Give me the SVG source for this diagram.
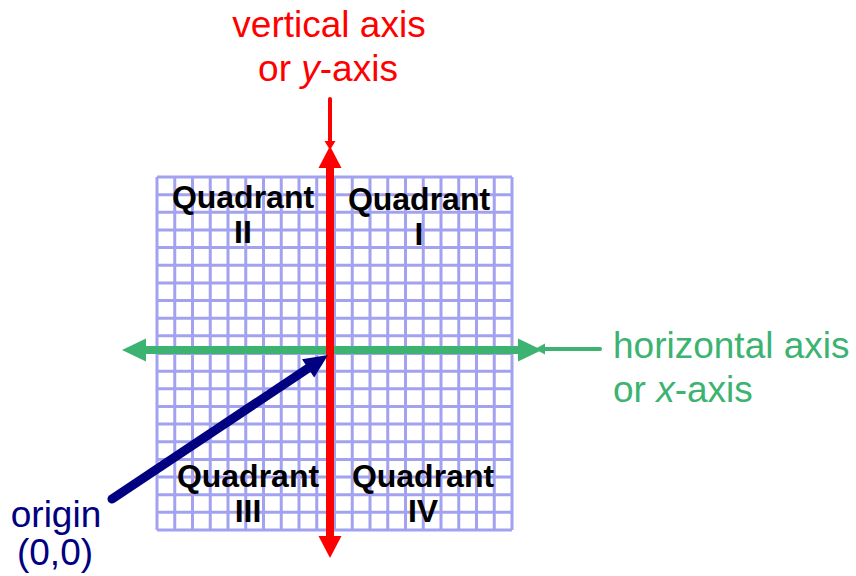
<svg xmlns="http://www.w3.org/2000/svg" width="856" height="576" viewBox="0 0 856 576">
<style>
.lbl{font-family:"Liberation Sans",Arial,sans-serif;font-size:37px}
.q{font-family:"Liberation Sans",Arial,sans-serif;font-size:32px;font-weight:bold;fill:#000;text-anchor:middle}
.grid line{stroke:#a2a2f0;stroke-width:3}
.red{fill:#ff0000}
.green{fill:#3cb371}
.navy{fill:#000080}
</style>
<g id="grid" class="grid">
<line x1="157" y1="177" x2="157" y2="530"/><line x1="174.75" y1="177" x2="174.75" y2="530"/><line x1="192.5" y1="177" x2="192.5" y2="530"/><line x1="210.25" y1="177" x2="210.25" y2="530"/><line x1="228" y1="177" x2="228" y2="530"/><line x1="245.75" y1="177" x2="245.75" y2="530"/><line x1="263.5" y1="177" x2="263.5" y2="530"/><line x1="281.25" y1="177" x2="281.25" y2="530"/><line x1="299" y1="177" x2="299" y2="530"/><line x1="316.75" y1="177" x2="316.75" y2="530"/><line x1="334.5" y1="177" x2="334.5" y2="530"/><line x1="352.25" y1="177" x2="352.25" y2="530"/><line x1="370" y1="177" x2="370" y2="530"/><line x1="387.75" y1="177" x2="387.75" y2="530"/><line x1="405.5" y1="177" x2="405.5" y2="530"/><line x1="423.25" y1="177" x2="423.25" y2="530"/><line x1="441" y1="177" x2="441" y2="530"/><line x1="458.75" y1="177" x2="458.75" y2="530"/><line x1="476.5" y1="177" x2="476.5" y2="530"/><line x1="494.25" y1="177" x2="494.25" y2="530"/><line x1="512" y1="177" x2="512" y2="530"/>
<line x1="157" y1="177" x2="512" y2="177"/><line x1="157" y1="194.65" x2="512" y2="194.65"/><line x1="157" y1="212.3" x2="512" y2="212.3"/><line x1="157" y1="229.95" x2="512" y2="229.95"/><line x1="157" y1="247.6" x2="512" y2="247.6"/><line x1="157" y1="265.25" x2="512" y2="265.25"/><line x1="157" y1="282.9" x2="512" y2="282.9"/><line x1="157" y1="300.55" x2="512" y2="300.55"/><line x1="157" y1="318.2" x2="512" y2="318.2"/><line x1="157" y1="335.85" x2="512" y2="335.85"/><line x1="157" y1="353.5" x2="512" y2="353.5"/><line x1="157" y1="371.15" x2="512" y2="371.15"/><line x1="157" y1="388.8" x2="512" y2="388.8"/><line x1="157" y1="406.45" x2="512" y2="406.45"/><line x1="157" y1="424.1" x2="512" y2="424.1"/><line x1="157" y1="441.75" x2="512" y2="441.75"/><line x1="157" y1="459.4" x2="512" y2="459.4"/><line x1="157" y1="477.05" x2="512" y2="477.05"/><line x1="157" y1="494.7" x2="512" y2="494.7"/><line x1="157" y1="512.35" x2="512" y2="512.35"/><line x1="157" y1="530" x2="512" y2="530"/>
</g>
<g id="quadrant-II"><text class="q" x="243" y="208">Quadrant</text><text class="q" x="243" y="243">II</text></g>
<g id="quadrant-I"><text class="q" x="419" y="210">Quadrant</text><text class="q" x="419" y="245">I</text></g>
<g id="quadrant-III"><text class="q" x="248" y="487">Quadrant</text><text class="q" x="248" y="522">III</text></g>
<g id="quadrant-IV"><text class="q" x="423" y="487">Quadrant</text><text class="q" x="423" y="522">IV</text></g>
<g id="connectors">
<g id="x-axis">
<line x1="144" y1="350" x2="520" y2="350" stroke="#3cb371" stroke-width="8"/>
<polygon class="green" points="122,350 146,338.5 146,361.5"/>
<polygon class="green" points="542,350 518,338.5 518,361.5"/>
</g>
<g id="y-axis">
<line x1="330" y1="166" x2="330" y2="539" stroke="#ff0000" stroke-width="8"/>
<polygon class="red" points="330,146 318.5,168 341.5,168"/>
<polygon class="red" points="330,558 318.5,536 341.5,536"/>
</g>
<g id="y-pointer">
<line x1="330" y1="99" x2="330" y2="143" stroke="#ff0000" stroke-width="4" stroke-linecap="round"/>
<polygon class="red" points="324.5,141 335.5,141 330,150"/>
</g>
<g id="x-pointer">
<line x1="600" y1="349" x2="543" y2="349" stroke="#3cb371" stroke-width="4" stroke-linecap="round"/>
<polygon class="green" points="545,343.5 545,354.5 535,349"/>
</g>
<g id="origin-pointer">
<line x1="112" y1="499" x2="310" y2="367" stroke="#000080" stroke-width="9" stroke-linecap="round"/>
<polygon class="navy" points="328,355 302,359.2 314.2,377.4"/>
</g>
</g>
<g id="label-y"><text class="lbl" fill="#ff0000" text-anchor="middle" x="329" y="37">vertical axis</text><text class="lbl" fill="#ff0000" text-anchor="middle" x="328" y="81">or <tspan font-style="italic">y</tspan>-axis</text></g>
<g id="label-x"><text class="lbl" fill="#3cb371" x="613" y="358">horizontal axis</text><text class="lbl" fill="#3cb371" x="613" y="402">or <tspan font-style="italic">x</tspan>-axis</text></g>
<g id="label-origin"><text class="lbl" fill="#000080" text-anchor="middle" x="56" y="527">origin</text><text class="lbl" fill="#000080" text-anchor="middle" x="55" y="565">(0,0)</text></g>
</svg>
